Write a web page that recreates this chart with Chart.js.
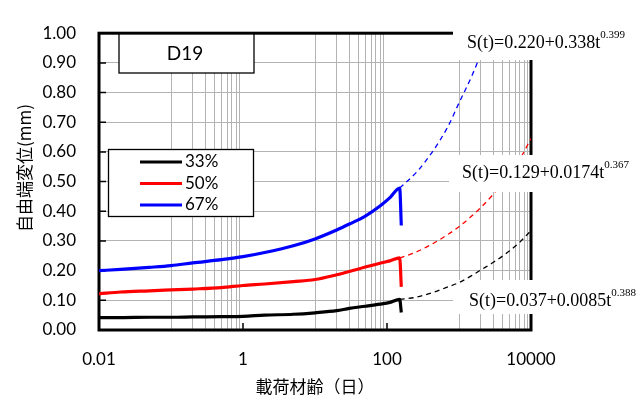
<!DOCTYPE html>
<html>
<head>
<meta charset="utf-8">
<script src="https://cdn.jsdelivr.net/npm/chart.js@4"></script>
<style>
html, body { margin: 0; padding: 0; background: #fff; }
</style>
</head>
<body>
<canvas id="grafico" width="642" height="396"></canvas>
<script>
// series
const seriesNames = ['33%', '50%', '67%'];
const seriesColors = ['#000000', '#ff0000', '#0000ff'];

// measured values (days, mm)
const measuredDays = [0.01, 0.02, 0.05, 0.1, 0.2, 0.5, 1, 2, 5, 10, 20, 30, 50, 80, 110, 150, 158];
const measured33 = [0.042, 0.042, 0.043, 0.043, 0.044, 0.045, 0.046, 0.050, 0.053, 0.058, 0.065, 0.073, 0.080, 0.087, 0.093, 0.103, 0.059];
const measured50 = [0.122, 0.128, 0.132, 0.135, 0.138, 0.143, 0.150, 0.155, 0.163, 0.170, 0.186, 0.197, 0.212, 0.225, 0.233, 0.243, 0.145];
const measured67 = [0.200, 0.204, 0.211, 0.217, 0.226, 0.237, 0.247, 0.261, 0.284, 0.307, 0.337, 0.357, 0.384, 0.418, 0.446, 0.478, 0.352];

// prediction curves (dashed)
const fitDays = [150, 250, 440, 700, 1000, 1500, 2000, 3000, 5000, 7000, 10000];
const fit33 = [0.103, 0.110, 0.127, 0.145, 0.160, 0.183, 0.202, 0.228, 0.266, 0.296, 0.335];
const fit50 = [0.243, 0.262, 0.292, 0.322, 0.348, 0.384, 0.412, 0.458, 0.524, 0.576, 0.645];
const fit67Days = [150, 260, 440, 700, 1000, 1500, 2000, 2500];
const fit67 = [0.478, 0.533, 0.605, 0.685, 0.765, 0.855, 0.930, 1.000];

// axis ticks
const xMajor = [0.01, 1, 100, 10000];
const xMinor = [0.1, 0.2, 0.3, 0.4, 0.5, 0.6, 0.7, 0.8, 0.9,
  10, 20, 30, 40, 50, 60, 70, 80, 90,
  1000, 2000, 3000, 4000, 5000, 6000, 7000, 8000, 9000];

const equations = [
  { base: 'S(t)=0.220+0.338t', exp: '0.399', box: [453, 27, 190, 33], tx: 467, ty: 48 },
  { base: 'S(t)=0.129+0.0174t', exp: '0.367', box: [449, 155, 193, 37], tx: 462, ty: 178 },
  { base: 'S(t)=0.037+0.0085t', exp: '0.388', box: [453, 280, 189, 34], tx: 469, ty: 306 }
];

const pares = (xs, ys) => xs.map((d, i) => ({ x: d, y: ys[i] }));
const fonteLato = 'Lato, "Open Sans", sans-serif';
const fonteJp = '"Noto Sans CJK JP", sans-serif';
const corGrade = '#b3b3b3';

function desenhaEquacao(ctx, eq) {
  const [bx, by, bw, bh] = eq.box;
  ctx.fillStyle = '#ffffff';
  ctx.fillRect(bx, by, bw, bh);
  ctx.fillStyle = '#000';
  ctx.textAlign = 'left';
  ctx.textBaseline = 'alphabetic';
  ctx.font = '18px "Liberation Serif", serif';
  ctx.fillText(eq.base, eq.tx, eq.ty);
  const w = ctx.measureText(eq.base).width;
  ctx.font = '11px "Liberation Serif", serif';
  ctx.fillText(eq.exp, eq.tx + w, eq.ty - 10);
}

const decor = {
  id: 'decor',
  beforeDatasetsDraw(chart) {
    const { ctx, chartArea: a, scales: { x, y } } = chart;
    ctx.save();
    ctx.strokeStyle = '#000';
    ctx.lineWidth = 3;
    ctx.strokeRect(a.left, a.top, a.right - a.left, a.bottom - a.top);
    ctx.lineWidth = 1.5;
    ctx.beginPath();
    y.ticks.forEach(t => {
      const py = y.getPixelForValue(t.value);
      ctx.moveTo(a.left, py);
      ctx.lineTo(a.left + 7, py);
    });
    xMajor.forEach(v => {
      const px = x.getPixelForValue(v);
      ctx.moveTo(px, a.bottom);
      ctx.lineTo(px, a.bottom - 7);
    });
    ctx.stroke();
    // the black prediction line runs over this label
    desenhaEquacao(ctx, equations[2]);
    ctx.restore();
  },
  afterDatasetsDraw(chart) {
    const { ctx } = chart;
    ctx.save();
    desenhaEquacao(ctx, equations[0]);
    desenhaEquacao(ctx, equations[1]);

    // D19 label
    ctx.fillStyle = '#fff';
    ctx.fillRect(119, 34, 135, 39);
    ctx.strokeStyle = '#000';
    ctx.lineWidth = 1.3;
    ctx.strokeRect(119, 34, 135, 39);
    ctx.fillStyle = '#000';
    ctx.font = '19px ' + fonteLato;
    ctx.textAlign = 'center';
    ctx.textBaseline = 'middle';
    ctx.fillText('D19', 185, 54);

    // legend
    ctx.fillStyle = '#fff';
    ctx.fillRect(108.5, 149.5, 145, 67);
    ctx.strokeRect(108.5, 149.5, 145, 67);
    ctx.font = '17px ' + fonteLato;
    ctx.textAlign = 'left';
    seriesNames.forEach((nome, i) => {
      const ly = 162 + i * 21.5;
      ctx.strokeStyle = seriesColors[i];
      ctx.lineWidth = 3;
      ctx.beginPath();
      ctx.moveTo(140, ly);
      ctx.lineTo(182, ly);
      ctx.stroke();
      ctx.fillStyle = '#000';
      ctx.fillText(nome, 185, ly);
    });

    // y axis title
    ctx.translate(25, 168);
    ctx.rotate(-Math.PI / 2);
    ctx.font = '17px ' + fonteJp;
    ctx.textAlign = 'center';
    ctx.fillText('自由端変位(mm)', 0, 0);
    ctx.restore();
  }
};

const medidos = [measured33, measured50, measured67].map((vals, i) => ({
  label: seriesNames[i],
  data: pares(measuredDays, vals),
  borderColor: seriesColors[i],
  borderWidth: 3.2,
  pointRadius: 0,
  cubicInterpolationMode: 'monotone',
  order: 1
}));

const previsoes = [pares(fitDays, fit33), pares(fitDays, fit50), pares(fit67Days, fit67)].map((d, i) => ({
  label: seriesNames[i] + ' fit',
  data: d,
  borderColor: seriesColors[i],
  borderWidth: 1.3,
  borderDash: [5, 4],
  pointRadius: 0,
  cubicInterpolationMode: 'monotone',
  order: 2
}));

new Chart(document.getElementById('grafico'), {
  type: 'line',
  data: { datasets: [...previsoes, ...medidos] },
  options: {
    responsive: false,
    animation: false,
    layout: { padding: { left: 0, right: 111, top: 18, bottom: 0 } },
    plugins: { legend: { display: false }, tooltip: { enabled: false } },
    scales: {
      x: {
        type: 'logarithmic',
        min: 0.01,
        max: 10000,
        afterBuildTicks: (s) => {
          s.ticks = [...xMajor, ...xMinor].sort((a, b) => a - b).map(v => ({ value: v }));
        },
        afterFit: (s) => { s.height = 66; },
        ticks: {
          autoSkip: false,
          maxRotation: 0,
          padding: 19,
          color: '#000',
          font: { family: fonteLato, size: 17 },
          callback: (v) => xMajor.includes(v) ? String(v) : ''
        },
        grid: {
          drawTicks: false,
          lineWidth: 1,
          color: (c) => (c.tick && xMajor.includes(c.tick.value)) ? 'rgba(0,0,0,0)' : corGrade
        },
        border: { display: false },
        title: {
          display: true,
          text: '載荷材齢（日）',
          color: '#000',
          font: { family: fonteJp, size: 17, lineHeight: 1 },
          padding: { top: 0, bottom: 1 }
        }
      },
      y: {
        min: 0,
        max: 1,
        afterFit: (s) => { s.width = 99; },
        ticks: {
          stepSize: 0.1,
          padding: 23,
          color: '#000',
          font: { family: fonteLato, size: 17 },
          callback: (v) => v.toFixed(2)
        },
        grid: { drawTicks: false, lineWidth: 1, color: corGrade },
        border: { display: false }
      }
    }
  },
  plugins: [decor]
});
</script>
</body>
</html>
